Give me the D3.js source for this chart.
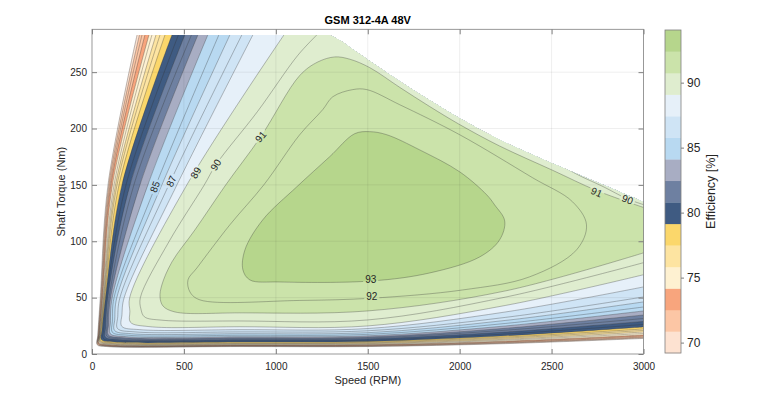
<!DOCTYPE html>
<html lang="en">
<head>
<meta charset="UTF-8">
<title>GSM 312-4A 48V</title>
<script src="https://d3js.org/d3.v7.min.js"></script>
<style>
  body { margin: 0; background: #fff; }
  svg { display: block; font-family: "Liberation Sans", Arial, Helvetica, sans-serif; }
</style>
</head>
<body>
<svg width="770" height="398"></svg>
<script>
// ---- data (speed in rpm, torque in Nm) ----
const xTicks = [0, 500, 1000, 1500, 2000, 2500, 3000];
const yTicks = [0, 50, 100, 150, 200, 250];
const cbarTicks = [70, 75, 80, 85, 90];
const cbarMin = 69.2, cbarMax = 94.05;
const bandColors = ["#fde2d1", "#fcc6a5", "#f8a57d", "#fef1d1", "#fde4a1", "#fbd76b", "#3f5b82", "#6e80a1",
                    "#a8adc3", "#b8d9f1", "#cfe4f5", "#e6f0f9", "#dfedcf", "#cbe3aa", "#b6d68c"];
const torqueCeiling = 283;

// fan-shaped iso-lines (left edge + bottom of the map)
const fanLevels = [70, 71, 72, 73, 74, 75, 76, 77, 78, 79, 80, 81, 82, 83, 84, 85, 86, 87, 88, 89];
const fanTop    = [245, 258, 272, 288, 310, 326, 348, 370, 397, 435, 470, 505, 541, 576, 630, 690, 750, 815, 875, 1044];
const fan150    = [87, 92, 98, 103, 111, 120, 128, 136, 147, 163, 185, 207, 228, 261, 304, 348, 380, 418, 462, 516];
const fan50     = [45, 48, 51, 54, 57, 60, 63, 66, 69, 73, 79, 86, 93, 101, 110, 120, 135, 152, 175, 205];
// point just above the lower-left corner, the corner itself, and the first point of the flat bottom
const kneeRpm   = [31, 33, 36, 38, 40, 42, 45, 47, 50, 54, 63, 74, 82, 90, 100, 111, 124, 140, 163, 206];
const kneeNm    = [16, 16.5, 17, 17.5, 18, 18.5, 19, 19.5, 20, 21, 22, 23.5, 24.5, 26, 27.5, 29, 31, 33, 35, 38];
const cornerRpm = [28, 30, 33, 35, 37, 39, 42, 44, 47, 51, 61, 72, 80, 88, 99, 110, 123, 139, 162, 209];
const cornerNm  = [8.2, 8.6, 9, 9.4, 9.8, 10.3, 10.8, 11.4, 12, 12.8, 13.8, 15.1, 16, 17, 18.1, 19.4, 20.9, 22.6, 24.6, 28.2];
const flatRpm   = [80, 84, 88, 92, 96, 100, 105, 110, 115, 122, 135, 150, 160, 172, 185, 200, 215, 235, 260, 310];
const flatNm    = [6.6, 6.9, 7.2, 7.5, 7.9, 8.3, 8.8, 9.3, 9.9, 10.6, 11.6, 12.7, 13.5, 14.4, 15.4, 16.6, 18, 19.6, 21.6, 24.3];
const fan800    = [6.6, 6.9, 7.2, 7.5, 7.9, 8.3, 8.8, 9.3, 9.9, 10.6, 11.6, 12.7, 13.5, 14.4, 15.4, 16.6, 18, 19.6, 21.6, 24.2];
const fan1500   = [6.6, 6.9, 7.3, 7.7, 8.1, 8.6, 9.2, 9.8, 10.4, 11.1, 12.2, 13.4, 14.2, 15.1, 16.1, 17.4, 18.9, 20.6, 22.6, 24.9];
const fan2250   = [9.2, 9.7, 10.2, 10.8, 11.4, 12.3, 13.1, 14.1, 15, 16.1, 17.7, 19.5, 21.1, 22.8, 24.9, 27.1, 29.8, 32.5, 37.3, 43.1];
const fan3000   = [13.8, 14.4, 15.1, 16, 16.9, 18.2, 19.5, 20.9, 22.2, 24, 26.2, 28.9, 31.5, 34.6, 38.2, 41.7, 46.2, 50.6, 59.5, 70.3];

// 90 % line: fan part and the short piece under the torque envelope
const line90 = [[1223, 283], [1120, 265], [900, 215], [674, 167.8], [611, 150], [420, 100], [263, 50], [266, 40],
                [285, 33], [380, 30], [800, 29.3], [1500, 30.2], [2250, 50.5], [3000, 81]];
const upper90 = [[2450, 178], [2625, 160.5], [2780, 148.5], [2913, 137.5], [3000, 132.5]];
// 91 % line: from right edge (top) over the hump, down the fan, back to right edge (bottom)
const line91 = [[3000, 130], [2745, 145], [2505, 163], [2217, 184.5], [2000, 203.5], [1837, 219.5], [1674, 236.5],
                [1511, 254], [1402, 261.5], [1321, 263.5], [1228, 259], [1130, 247], [918, 192.7], [728, 150.1],
                [560, 110.1], [435, 81.7], [380, 61.3], [370, 50.6], [386, 42.6], [451, 37.3], [800, 36.5],
                [1500, 38.2], [2250, 56], [3000, 89.7]];
// closed 92 % and 93 % islands
const loop92 = [[1255, 216.7], [1310, 228.2], [1418, 234.5], [1495, 234.5], [1674, 221.1], [2000, 194.5], [2397, 156.3],
                [2614, 135], [2690, 114.6], [2636, 92.4], [2380, 68.4], [2016, 56.8], [1522, 49.5], [1130, 47.5],
                [587, 48], [533, 55], [522, 65.7], [571, 76.4], [750, 114.6], [935, 150.1], [1130, 194.5]];
const loop93 = [[2245, 118], [2190, 132.3], [2147, 141.2], [2000, 161.6], [1783, 181], [1603, 194.5], [1511, 197.2],
                [1429, 195.4], [1293, 175], [1114, 148.3], [929, 119], [832, 92.4], [821, 74.6], [859, 65.7],
                [1022, 63.9], [1522, 64.8], [1837, 71.9], [2109, 86.1], [2217, 101.2]];
// maximum torque envelope (top right cut-off)
const envelope = [[1250, 283], [1290, 283], [1350, 278], [1420, 270], [1500, 261], [1674, 242], [1837, 225],
                  [2000, 209], [2217, 190], [2505, 169], [2761, 151.5], [3000, 135]];

// contour labels
const labelText  = ["85", "87", "89", "90", "91", "91", "90", "93", "92"];
const labelRpm   = [342, 432, 565, 674, 918, 2745, 2913, 1516, 1522];
const labelNm    = [148.3, 153.2, 160.7, 167.8, 192.7, 143.5, 137, 65.7, 50.6];
const labelAngle = [-70, -66, -60, -57, -50, 24, 22, 0, 0];

// ---- drawing ----
const svg = d3.select("svg");
const x = d3.scaleLinear().domain([0, 3000]).range([92, 643.5]);
const y = d3.scaleLinear().domain([0, 288]).range([354, 29.3]);
const band = d3.scaleQuantize().domain([69, 94]).range(bandColors);
const colorOf = level => band(level + 0.01);

const curve = d3.line().x(d => x(d[0])).y(d => y(d[1])).curve(d3.curveCatmullRom.alpha(0.5));
const loop = d3.line().x(d => x(d[0])).y(d => y(d[1])).curve(d3.curveCatmullRomClosed.alpha(0.5));
const pt = (s, t) => `${x(s)},${y(t)}`;

const fanLines = fanLevels.map((level, i) => ({
  level,
  pts: [[fanTop[i], torqueCeiling], [fan150[i], 150], [fan50[i], 50], [kneeRpm[i], kneeNm[i]],
        [cornerRpm[i], cornerNm[i]], [flatRpm[i], flatNm[i]],
        [800, fan800[i]], [1500, fan1500[i]], [2250, fan2250[i]], [3000, fan3000[i]]]
}));

// filled regions (efficiency >= level), painted low to high
const regions = fanLines.map(f => ({ level: f.level, d: curve(f.pts) + "L" + pt(3000, torqueCeiling) + "Z" }));
regions.push({
  level: 90,
  d: curve(line90) + "L" + pt(3000, upper90[upper90.length - 1][1]) +
     curve(upper90.slice().reverse()).replace("M", "L") +
     "L" + pt(upper90[0][0], torqueCeiling) + "Z"
});
regions.push({ level: 91, d: curve(line91) + "Z" });
regions.push({ level: 92, d: loop(loop92) });
regions.push({ level: 93, d: loop(loop93) });

const defs = svg.append("defs");
defs.append("clipPath").attr("id", "env")
  .append("path")
  .attr("d", curve(envelope) + `L${x(3000) + 2},${y(135)}L${x(3000) + 2},${y(0) + 2}L${x(0) - 2},${y(0) + 2}L${x(0) - 2},${y(torqueCeiling)}Z`);

const map = svg.append("g").attr("clip-path", "url(#env)");
map.selectAll("path.region")
  .data(regions)
  .join("path")
  .attr("class", "region")
  .attr("d", d => d.d)
  .attr("fill", d => colorOf(d.level))
  .attr("stroke", "none");

// labels first, so their boxes can cut gaps into the lines
const mask = defs.append("mask").attr("id", "labelGap");
mask.append("rect").attr("x", 0).attr("y", 0).attr("width", 770).attr("height", 398).attr("fill", "#fff");

const labels = svg.append("g")
  .selectAll("text")
  .data(labelText.map((t, i) => ({ t, s: labelRpm[i], n: labelNm[i], a: labelAngle[i] })))
  .join("text")
  .attr("transform", d => `translate(${x(d.s)},${y(d.n)}) rotate(${d.a})`)
  .attr("text-anchor", "middle")
  .attr("dy", "0.35em")
  .attr("font-size", "10px")
  .attr("fill", "#262626")
  .text(d => d.t);

labels.each(function(d) {
  const w = this.getComputedTextLength() + 4;
  mask.append("rect")
    .attr("transform", `translate(${x(d.s)},${y(d.n)}) rotate(${d.a})`)
    .attr("x", -w / 2).attr("y", -5.5).attr("width", w).attr("height", 11)
    .attr("fill", "#000");
});

const lineGroup = map.append("g").attr("mask", "url(#labelGap)")
  .attr("fill", "none").attr("stroke", "#333").attr("stroke-opacity", 0.55).attr("stroke-width", 0.6);
lineGroup.selectAll("path.fan").data(fanLines).join("path").attr("class", "fan").attr("d", d => curve(d.pts));
lineGroup.append("path").attr("d", curve(line90));
lineGroup.append("path").attr("d", curve(upper90));
lineGroup.append("path").attr("d", curve(line91));
lineGroup.append("path").attr("d", loop(loop92));
lineGroup.append("path").attr("d", loop(loop93));

labels.raise();

// grid on top
const grid = svg.append("g").attr("stroke", "#262626").attr("stroke-opacity", 0.13).attr("stroke-width", 0.6);
grid.selectAll("line.gx").data(xTicks.slice(1, -1)).join("line").attr("class", "gx")
  .attr("x1", d => x(d)).attr("x2", d => x(d)).attr("y1", y.range()[0]).attr("y2", y.range()[1]);
grid.selectAll("line.gy").data(yTicks.slice(1)).join("line").attr("class", "gy")
  .attr("y1", d => y(d)).attr("y2", d => y(d)).attr("x1", x.range()[0]).attr("x2", x.range()[1]);

// axes
const styleAxis = g => {
  g.select(".domain").remove();
  g.selectAll(".tick line").attr("stroke", "#7f7f7f");
  g.selectAll(".tick text").attr("fill", "#262626").attr("font-size", "10px")
    .attr("font-family", '"Liberation Sans", Arial, sans-serif');
};
svg.append("g").attr("transform", `translate(0,${y(0)})`)
  .call(d3.axisBottom(x).tickValues(xTicks).tickFormat(d3.format("d")).tickSize(-5).tickSizeOuter(0).tickPadding(9))
  .call(styleAxis);
svg.append("g").attr("transform", `translate(0,${y.range()[1]})`)
  .call(d3.axisTop(x).tickValues(xTicks).tickSize(-5).tickSizeOuter(0).tickFormat("")).call(styleAxis);
svg.append("g").attr("transform", `translate(${x(0)},0)`)
  .call(d3.axisLeft(y).tickValues(yTicks).tickSize(-5).tickSizeOuter(0).tickPadding(5)).call(styleAxis);
svg.append("g").attr("transform", `translate(${x(3000)},0)`)
  .call(d3.axisRight(y).tickValues(yTicks).tickSize(-5).tickSizeOuter(0).tickFormat("")).call(styleAxis);

svg.append("rect")
  .attr("x", x(0)).attr("y", y.range()[1])
  .attr("width", x(3000) - x(0)).attr("height", y(0) - y.range()[1])
  .attr("fill", "none").attr("stroke", "#7f7f7f").attr("stroke-width", 0.8);

// titles
svg.append("text").attr("x", (x(0) + x(3000)) / 2).attr("y", 24)
  .attr("text-anchor", "middle").attr("font-size", "11px").attr("font-weight", "bold").attr("fill", "#000")
  .text("GSM 312-4A 48V");
svg.append("text").attr("x", (x(0) + x(3000)) / 2).attr("y", 384)
  .attr("text-anchor", "middle").attr("font-size", "11px").attr("fill", "#262626")
  .text("Speed (RPM)");
svg.append("text").attr("transform", `translate(65,${(y(0) + y.range()[1]) / 2}) rotate(-90)`)
  .attr("text-anchor", "middle").attr("font-size", "11px").attr("fill", "#262626")
  .text("Shaft Torque (Nm)");

// colorbar
const cb = d3.scaleLinear().domain([cbarMin, cbarMax]).range([353, 30]);
const cbX = 665, cbW = 16;
const step = (cbarMax - cbarMin) / bandColors.length;
const cbar = svg.append("g");
cbar.selectAll("rect.band").data(bandColors).join("rect").attr("class", "band")
  .attr("x", cbX).attr("width", cbW)
  .attr("y", (c, i) => cb(cbarMin + (i + 1) * step))
  .attr("height", (c, i) => cb(cbarMin + i * step) - cb(cbarMin + (i + 1) * step) + 0.3)
  .attr("fill", c => c);
cbar.append("rect").attr("x", cbX).attr("y", cb(cbarMax)).attr("width", cbW).attr("height", cb(cbarMin) - cb(cbarMax))
  .attr("fill", "none").attr("stroke", "#7f7f7f").attr("stroke-width", 0.8);
cbar.append("g").attr("transform", `translate(${cbX + cbW},0)`)
  .call(d3.axisRight(cb).tickValues(cbarTicks).tickSize(3).tickPadding(3))
  .call(g => {
    g.select(".domain").remove();
    g.selectAll(".tick line").attr("stroke", "#7f7f7f");
    g.selectAll(".tick text").attr("fill", "#262626").attr("font-size", "12px")
      .attr("font-family", '"Liberation Sans", Arial, sans-serif');
  });
svg.append("text").attr("transform", `translate(715,${(cb(cbarMin) + cb(cbarMax)) / 2}) rotate(-90)`)
  .attr("text-anchor", "middle").attr("font-size", "12.5px").attr("fill", "#262626")
  .text("Efficiency [%]");
</script>
</body>
</html>
